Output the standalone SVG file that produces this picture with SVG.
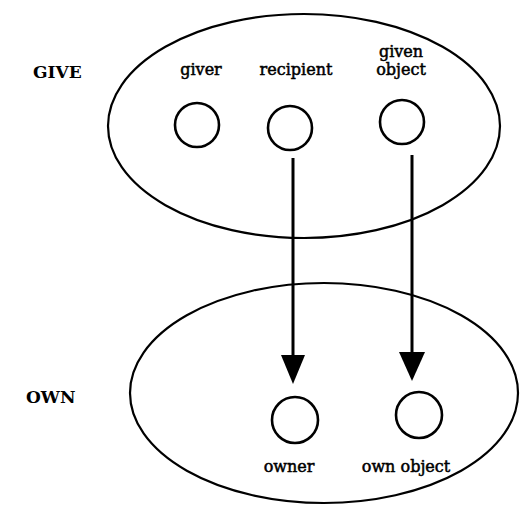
<svg xmlns="http://www.w3.org/2000/svg" width="520" height="505" viewBox="0 0 520 505">
<defs>
<style>
.frame{fill:none;stroke:#000;stroke-width:2.2}
.slot{fill:#fff;stroke:#000;stroke-width:2.6}
.lbl{font-family:"DejaVu Serif","Liberation Serif",serif;font-size:16px;fill:#000;stroke:#000;stroke-width:0.5;text-anchor:middle}
.title{font-family:"DejaVu Serif","Liberation Serif",serif;font-size:17px;font-weight:bold;fill:#000}
.conn{stroke:#000;stroke-width:3;fill:none}
</style>
</defs>
<rect width="520" height="505" fill="#fff"/>
<g id="give">
<ellipse class="frame" cx="304" cy="126" rx="196" ry="112"/>
<text class="title" x="33" y="78">GIVE</text>
</g>
<g id="own">
<ellipse class="frame" cx="324" cy="393" rx="194" ry="110"/>
<text class="title" x="26" y="403">OWN</text>
</g>
<g id="giver">
<circle class="slot" cx="197" cy="125" r="22"/>
<text class="lbl" x="201" y="75">giver</text>
</g>
<g id="recipient">
<circle class="slot" cx="290" cy="128" r="22"/>
<text class="lbl" x="296" y="75">recipient</text>
</g>
<g id="given-object">
<circle class="slot" cx="402" cy="122" r="22"/>
<text class="lbl" x="401" y="57">given</text>
<text class="lbl" x="401" y="75">object</text>
</g>
<g id="owner">
<circle class="slot" cx="295" cy="420" r="23"/>
<text class="lbl" x="289" y="472">owner</text>
</g>
<g id="own-object">
<circle class="slot" cx="419" cy="415" r="23"/>
<text class="lbl" x="406" y="472">own object</text>
</g>
<g id="connectors">
<line class="conn" x1="293" y1="158" x2="293" y2="356"/>
<path d="M281,355 L305,355 L293,384 z" fill="#000"/>
<line class="conn" x1="412" y1="155" x2="412" y2="353"/>
<path d="M399,352 L425,352 L412,381 z" fill="#000"/>
</g>
</svg>
